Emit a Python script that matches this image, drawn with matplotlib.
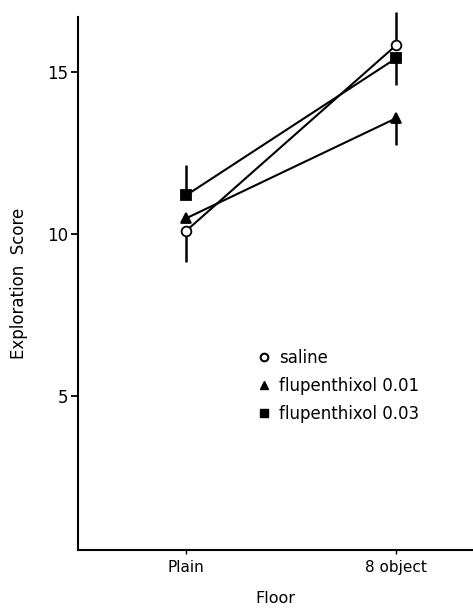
import numpy as np
import matplotlib.pyplot as plt
from matplotlib.lines import Line2D

plt.rcParams['font.family'] = ['DejaVu Sans']

# Data
floors = ['Plain', '8 object']
saline = [10.1, 15.83]
saline_lo = [0.95, 0.0]
saline_hi = [0.0, 1.02]
flu01 = [10.49, 13.58]
flu01_lo = [0.0, 0.83]
flu01_hi = [0.0, 0.0]
flu03 = [11.2, 15.43]
flu03_lo = [0.0, 0.83]
flu03_hi = [0.93, 0.0]

x = np.arange(len(floors))

fig = plt.figure(figsize=(4.73, 6.16), dpi=100)
ax = fig.add_axes([0.165, 0.107, 0.835, 0.865])

series = [
    (saline, saline_lo, saline_hi, 'o', 'white', 7, 'saline'),
    (flu01, flu01_lo, flu01_hi, '^', 'black', 7, 'flupenthixol 0.01'),
    (flu03, flu03_lo, flu03_hi, 's', 'black', 7.5, 'flupenthixol 0.03'),
]
for vals, lo, hi, mk, fc, ms, lab in series:
    ax.errorbar(x, vals, yerr=[lo, hi], fmt='none', ecolor='black',
                elinewidth=1.8, capsize=0, clip_on=False)
    ax.plot(x, vals, color='black', lw=1.5, marker=mk, markersize=ms,
            markerfacecolor=fc, markeredgecolor='black', markeredgewidth=1.3,
            clip_on=False, zorder=3)

ax.set_xlim(-0.514, 1.367)
ax.set_ylim(0.25, 16.7)
ax.set_xticks(x)
ax.set_xticklabels(floors)
ax.set_yticks([5, 10, 15])
ax.spines['top'].set_visible(False)
ax.spines['right'].set_visible(False)
ax.spines['left'].set_linewidth(1.5)
ax.spines['bottom'].set_linewidth(1.5)
ax.tick_params(axis='y', direction='out', length=5, width=1.3, labelsize=12, pad=2)
ax.tick_params(axis='x', direction='out', length=3, width=1.0, labelsize=11, pad=4)
ax.set_xlabel('Floor', fontsize=11.5, labelpad=12)
ax.set_ylabel('Exploration  Score', fontsize=12, labelpad=14)

handles = [
    Line2D([], [], ls='none', marker='o', markersize=5.5, markerfacecolor='white',
           markeredgecolor='black', markeredgewidth=1.5),
    Line2D([], [], ls='none', marker='^', markersize=6, color='black'),
    Line2D([], [], ls='none', marker='s', markersize=6, color='black'),
]
ax.legend(handles, [s[6] for s in series], loc='upper left',
          bbox_to_anchor=(0.415, 0.405), frameon=False, fontsize=12,
          handlelength=0.8, handletextpad=0.5, labelspacing=0.6)

fig.savefig('out.png', dpi=100)
